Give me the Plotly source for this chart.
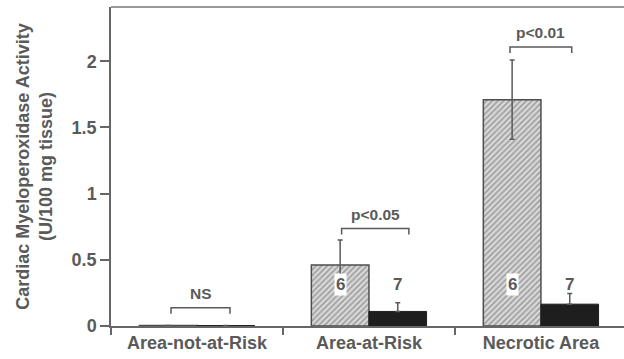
import plotly.graph_objects as go

categories = ["Area-not-at-Risk", "Area-at-Risk", "Necrotic Area"]
group_a = [0.004, 0.46, 1.71]          # hatched bars
group_a_err = [0.0, 0.19, 0.30]
group_b = [0.003, 0.11, 0.165]         # solid dark bars
group_b_err = [0.0, 0.065, 0.08]
n_a = ["", "6", "6"]
n_b = ["", "7", "7"]
sig_labels = ["NS", "p<0.05", "p<0.01"]
sig_y = [0.138, 0.737, 2.108]
y_ticks = [0, 0.5, 1, 1.5, 2]
y_ticklabels = ["0", "0.5", "1", "1.5", "2"]

GREY = "#5a5a5a"
FONT = "Liberation Sans"
x_pos = list(range(len(categories)))

fig = go.Figure()
fig.add_trace(go.Bar(
    x=x_pos, y=group_a,
    error_y=dict(type="data", array=group_a_err, visible=True, color=GREY, thickness=1.5, width=2.5),
    marker=dict(color="#d9d9d9", line=dict(color="#4e4e4e", width=1.5),
                pattern=dict(shape="/", fgcolor="#626262", size=4, solidity=0.4)),
    showlegend=False,
))
fig.add_trace(go.Bar(
    x=x_pos, y=group_b,
    error_y=dict(type="data", symmetric=False, array=group_b_err, arrayminus=[0] * len(group_b_err),
                 visible=True, color=GREY, thickness=1.5, width=2.5),
    marker=dict(color="#1e1e1e", line=dict(color="#1e1e1e", width=1)),
    showlegend=False,
))

off = 0.167
for i in x_pos:
    if n_a[i]:
        fig.add_annotation(x=i - off, y=0.317, text="<b>%s</b>" % n_a[i], showarrow=False,
                           font=dict(family=FONT, size=17, color=GREY), bgcolor="white", borderpad=1)
    if n_b[i]:
        fig.add_annotation(x=i + off, y=0.317, text="<b>%s</b>" % n_b[i], showarrow=False,
                           font=dict(family=FONT, size=17, color=GREY))

# significance brackets
bracket_x = [(-0.151, 0.192), (0.841, 1.232), (1.820, 2.179)]
for (x0, x1), yb, lab in zip(bracket_x, sig_y, sig_labels):
    leg = 0.045
    fig.add_shape(type="path",
                  path=f"M {x0},{yb-leg} L {x0},{yb} L {x1},{yb} L {x1},{yb-leg}",
                  line=dict(color=GREY, width=1.5), xref="x", yref="y")
    fig.add_annotation(x=(x0 + x1) / 2, y=yb, yshift=14, text="<b>%s</b>" % lab,
                       showarrow=False, font=dict(family=FONT, size=15.5, color=GREY))

# top frame line
fig.add_shape(type="line", xref="paper", yref="paper", x0=0, x1=1, y0=1, y1=1,
              line=dict(color="#777777", width=1.5))

fig.update_layout(
    width=624, height=359,
    margin=dict(l=111, r=0, t=7, b=33),
    plot_bgcolor="white", paper_bgcolor="white",
    barmode="group", bargap=0.33, bargroupgap=0,
    font=dict(family=FONT, color=GREY),
)
fig.update_xaxes(
    range=[-0.5, 2.483], tickvals=x_pos,
    ticktext=["<b>%s</b>" % c for c in categories],
    tickfont=dict(family=FONT, size=18, color=GREY),
    ticks="", showgrid=False, zeroline=False,
    showline=True, linecolor="#666666", linewidth=1.5,
    minor=dict(tickvals=[-0.5, 0.5, 1.5], ticks="outside", ticklen=7, tickcolor="#666666", tickwidth=1.5, showgrid=False),
)
fig.update_yaxes(
    range=[0, 2.41], tickvals=y_ticks, ticktext=["<b>%s</b>" % t for t in y_ticklabels],
    tickfont=dict(family=FONT, size=18, color=GREY),
    ticks="outside", ticklen=9, tickcolor="#666666", tickwidth=1.5,
    showgrid=False, zeroline=False,
    showline=True, linecolor="#666666", linewidth=1.5,
    title=dict(text="<b>Cardiac Myeloperoxidase Activity<br>(U/100 mg tissue)</b>",
               font=dict(family=FONT, size=18, color=GREY), standoff=14),
)

fig.write_html("out.html", config={"displayModeBar": False},
               post_script="document.body.style.margin='0';document.body.style.overflow='hidden';")
